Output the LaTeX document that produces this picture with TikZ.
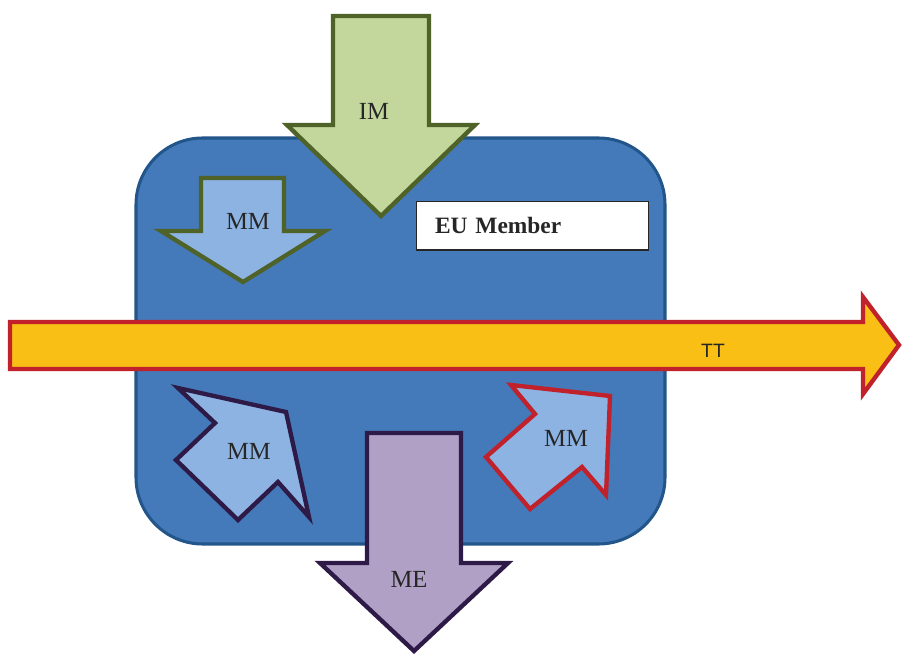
\documentclass[tikz,border=0pt]{standalone}
\usepackage{fontspec}
\setmainfont{Liberation Serif}
\newfontfamily\ttlabelfont{Liberation Sans}

\definecolor{memberblue}{HTML}{447ABA}
\definecolor{memberedge}{HTML}{22558A}
\definecolor{imgreen}{HTML}{C3D69B}
\definecolor{imedge}{HTML}{4F6228}
\definecolor{mmblue}{HTML}{8DB3E2}
\definecolor{ttyellow}{HTML}{F9BF15}
\definecolor{ttred}{HTML}{C0212B}
\definecolor{melilac}{HTML}{B0A0C6}
\definecolor{meedge}{HTML}{2E1A47}

\begin{document}
\begin{tikzpicture}[
  x=0.03cm,
  y=-0.03cm,
  flow/.style = {
    line width=3.7pt,
    line join=miter
  },
  arrowlabel/.style = {
    font=\fontsize{21}{24}\selectfont,
    text=black!85,
    inner sep=0pt
  },
]
  \useasboundingbox (0,0) rectangle (903,655);

  % the member state
  \draw[
    fill=memberblue,
    draw=memberedge,
    line width=2.6pt,
    rounded corners=2cm
  ] (136,138) rectangle (665,544);

  % transit trade
  \draw[flow, fill=ttyellow, draw=ttred]
    (10,322) -- (863,322) -- (863,297) -- (899,345) -- (863,394)
    -- (863,369) -- (10,369) -- cycle;
  \node (tt)[
    font=\ttlabelfont\fontsize{16.5}{18}\selectfont,
    text=black!85
  ] at (713,351) {TT};

  % import
  \draw[flow, fill=imgreen, draw=imedge]
    (333,16) -- (429,16) -- (429,125) -- (475,125) -- (381,216)
    -- (287,125) -- (333,125) -- cycle;
  \node (im)[arrowlabel] at (374,111) {IM};

  % internal movements
  \draw[flow, fill=mmblue, draw=imedge]
    (201,178) -- (284,178) -- (284,231) -- (325,231) -- (243,282)
    -- (161,231) -- (201,231) -- cycle;
  \node (mmtop)[arrowlabel] at (248,221) {MM};

  \draw[flow, fill=mmblue, draw=meedge]
    (178,388) -- (286,412) -- (309,517) -- (278,482) -- (238,520)
    -- (176,460) -- (215,423) -- cycle;
  \node (mmleft)[arrowlabel] at (249,451) {MM};

  \draw[flow, fill=mmblue, draw=ttred]
    (511,385) -- (610,396) -- (606,495) -- (582,467) -- (530,509)
    -- (486,457) -- (535,414) -- cycle;
  \node (mmright)[arrowlabel] at (566,438) {MM};

  % label
  \node (eu)[
    draw=black!85,
    line width=1.2pt,
    fill=white,
    minimum width=6.95cm,
    minimum height=1.45cm,
    inner xsep=0.55cm,
    anchor=north west,
    text width=5.85cm,
    font=\fontsize{20}{24}\selectfont\bfseries,
    text=black!85
  ] at (416,201) {EU Member};

  % export
  \draw[flow, fill=melilac, draw=meedge]
    (367,433) -- (461,433) -- (461,563) -- (508,563) -- (414,651)
    -- (320,563) -- (367,563) -- cycle;
  \node (me)[arrowlabel] at (409,579) {ME};
\end{tikzpicture}
\end{document}
